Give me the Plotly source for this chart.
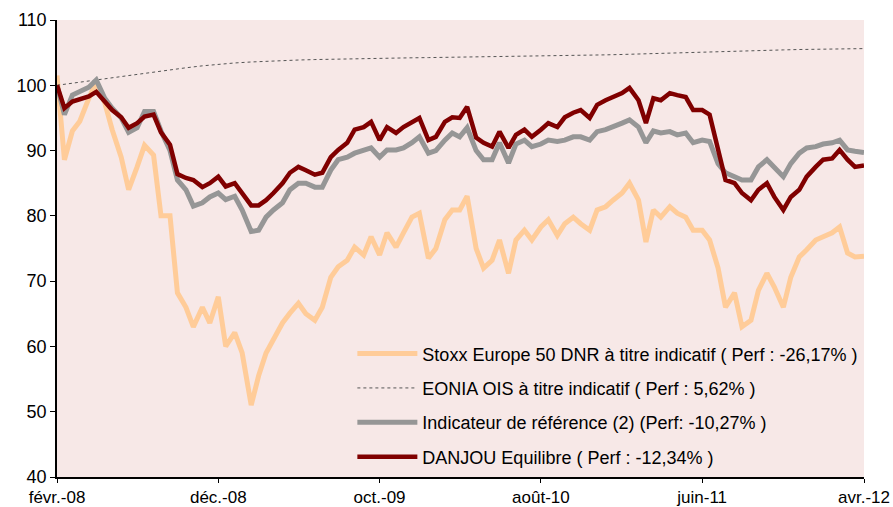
import pandas as pd
import plotly.graph_objects as go

# semi-monthly observation dates (1st and 15th) Feb 2008 -> Apr 2012
dates = pd.date_range("2008-02-01", "2012-04-01", freq="SMS")
eonia_dates = pd.date_range("2008-02-01", "2012-04-01", freq="MS")

danjou = [100.0, 96.5, 97.5, 97.8, 98.3, 99.0, 97.5, 96.2, 95.1, 93.5,
          94.2, 95.2, 95.5, 92.8, 90.9, 86.4, 85.8, 85.5, 84.4, 85.0,
          86.0, 84.5, 85.0, 83.5, 81.6, 81.6, 82.4, 83.5, 85.0, 86.6,
          87.5, 87.0, 86.3, 86.6, 89.0, 90.1, 91.2, 93.2, 93.6, 94.4,
          91.6, 93.6, 92.7, 93.6, 94.4, 95.0, 91.6, 92.1, 94.4, 95.1,
          95.0, 96.7, 92.0, 91.2, 90.6, 92.9, 90.4, 92.4, 93.2, 92.1,
          93.2, 94.2, 93.6, 95.1, 95.8, 96.2, 95.0, 97.0, 97.7, 98.2,
          98.8, 99.6, 97.7, 94.2, 98.0, 97.7, 98.8, 98.5, 98.2, 96.2,
          96.2, 95.5, 90.0, 85.5, 85.0, 83.5, 82.4, 84.0, 85.0, 82.9,
          80.9, 82.9, 84.0, 86.0, 87.5, 88.6, 88.8, 90.1, 88.6, 87.5,
          87.7]

indicateur = [100.0, 95.5, 98.5, 99.0, 99.7, 100.8, 98.0, 96.5, 95.0, 92.8,
              93.5, 96.0, 96.0, 93.0, 90.0, 85.5, 84.0, 81.5, 82.0, 82.9,
              83.5, 82.5, 83.0, 80.9, 77.6, 77.8, 79.8, 80.9, 82.0, 84.0,
              85.0, 85.0, 84.4, 84.4, 87.0, 88.6, 89.0, 89.6, 90.1, 90.4,
              89.0, 90.1, 90.1, 90.4, 91.2, 92.1, 89.6, 90.0, 91.6, 92.7,
              92.1, 93.5, 90.0, 88.6, 88.6, 91.2, 88.1, 91.0, 91.6, 90.6,
              91.0, 91.6, 91.4, 91.6, 92.1, 92.1, 91.6, 92.9, 93.2, 93.6,
              94.2, 94.7, 93.6, 91.2, 93.0, 92.7, 92.9, 92.4, 92.7, 91.2,
              91.6, 91.4, 88.0, 86.6, 86.0, 85.5, 85.5, 87.5, 88.6, 87.5,
              86.0, 88.0, 89.6, 90.4, 90.6, 91.0, 91.2, 91.6, 90.1, 89.9,
              89.7]

stoxx = [101.5, 88.6, 93.0, 94.5, 98.0, 100.5, 97.3, 93.2, 89.0, 84.0,
         87.5, 90.8, 89.3, 80.0, 80.0, 68.2, 66.0, 63.0, 66.0, 63.6,
         67.6, 60.0, 62.1, 59.0, 51.0, 55.5, 59.0, 61.0, 63.6, 65.1,
         66.6, 65.0, 64.0, 66.0, 70.6, 72.2, 73.2, 75.2, 74.0, 76.8,
         74.0, 77.4, 75.2, 77.4, 79.8, 80.4, 73.5, 75.0, 79.4, 80.9,
         80.9, 83.0, 75.0, 72.0, 73.2, 76.3, 71.2, 76.3, 77.8, 76.3,
         78.3, 79.4, 77.0, 78.8, 79.8, 78.8, 77.8, 80.9, 81.4, 82.4,
         83.5, 85.0, 82.4, 76.0, 80.9, 79.8, 81.4, 80.4, 79.8, 77.8,
         77.8, 76.3, 72.0, 66.0, 68.2, 63.0, 64.0, 68.6, 71.2, 69.1,
         66.0, 70.6, 73.7, 74.8, 76.3, 76.8, 77.4, 78.3, 74.3, 73.7,
         73.8]

eonia = [100.0, 100.33, 100.66, 100.99, 101.32, 101.66, 102.0, 102.34, 102.68, 102.98, 103.22,
         103.42, 103.57, 103.69, 103.79, 103.87, 103.94, 104.0, 104.05, 104.09, 104.13, 104.17, 104.21,
         104.24, 104.27, 104.3, 104.33, 104.36, 104.39, 104.43, 104.47, 104.51, 104.56, 104.61, 104.66,
         104.72, 104.78, 104.84, 104.91, 104.98, 105.05, 105.13, 105.21, 105.28, 105.35, 105.42, 105.48,
         105.53, 105.57, 105.6, 105.62]

tick_dates = ["2008-02-01", "2008-12-01", "2009-10-01", "2010-08-01", "2011-06-01", "2012-04-01"]
tick_labels = ["févr.-08", "déc.-08", "oct.-09", "août-10", "juin-11", "avr.-12"]
y_ticks = [40, 50, 60, 70, 80, 90, 100, 110]

names = ["Stoxx Europe 50 DNR à titre indicatif ( Perf : -26,17% )",
         "EONIA OIS à titre indicatif ( Perf : 5,62% )",
         "Indicateur de référence (2) (Perf: -10,27% )",
         "DANJOU Equilibre ( Perf : -12,34% )"]

fig = go.Figure()
fig.add_trace(go.Scatter(x=dates, y=stoxx, mode="lines", name=names[0], legendgroup="a",
                         line=dict(color="#FFCC99", width=5)))
fig.add_trace(go.Scatter(x=eonia_dates, y=eonia, mode="lines", name=names[1], legendgroup="b",
                         line=dict(color="#555555", width=1, dash="dot")))
fig.add_trace(go.Scatter(x=dates, y=indicateur, mode="lines", name=names[2], legendgroup="c",
                         line=dict(color="#969696", width=5)))
fig.add_trace(go.Scatter(x=dates, y=danjou, mode="lines", name=names[3], legendgroup="d",
                         line=dict(color="#800000", width=4.5)))

fig.update_layout(
    width=893, height=507,
    margin=dict(l=57, r=29, t=20, b=30, autoexpand=False),
    paper_bgcolor="white",
    plot_bgcolor="#F7E8E7",
    font=dict(family="Liberation Sans, Arial, sans-serif", color="black", size=18),
    showlegend=True,
    legend=dict(x=0.366, y=0.31, xanchor="left", yanchor="top",
                bgcolor="rgba(0,0,0,0)", font=dict(size=18),
                tracegroupgap=8, itemwidth=60, traceorder="grouped"),
    xaxis=dict(range=["2008-02-01", "2012-04-01"], tickvals=tick_dates, ticktext=tick_labels,
               showgrid=False, zeroline=False, showline=True, linecolor="black", linewidth=1.5,
               ticks="outside", ticklen=4, tickcolor="black", tickfont=dict(size=17),
               automargin=False),
    yaxis=dict(range=[40, 110], tickvals=y_ticks, showgrid=False, zeroline=False,
               showline=True, linecolor="black", linewidth=1.5,
               ticks="outside", ticklen=5, tickcolor="black", tickfont=dict(size=18),
               automargin=False),
)

fig.write_html("out.html", config={"displayModeBar": False},
               post_script="document.body.style.margin='0';document.body.style.overflow='hidden';")
